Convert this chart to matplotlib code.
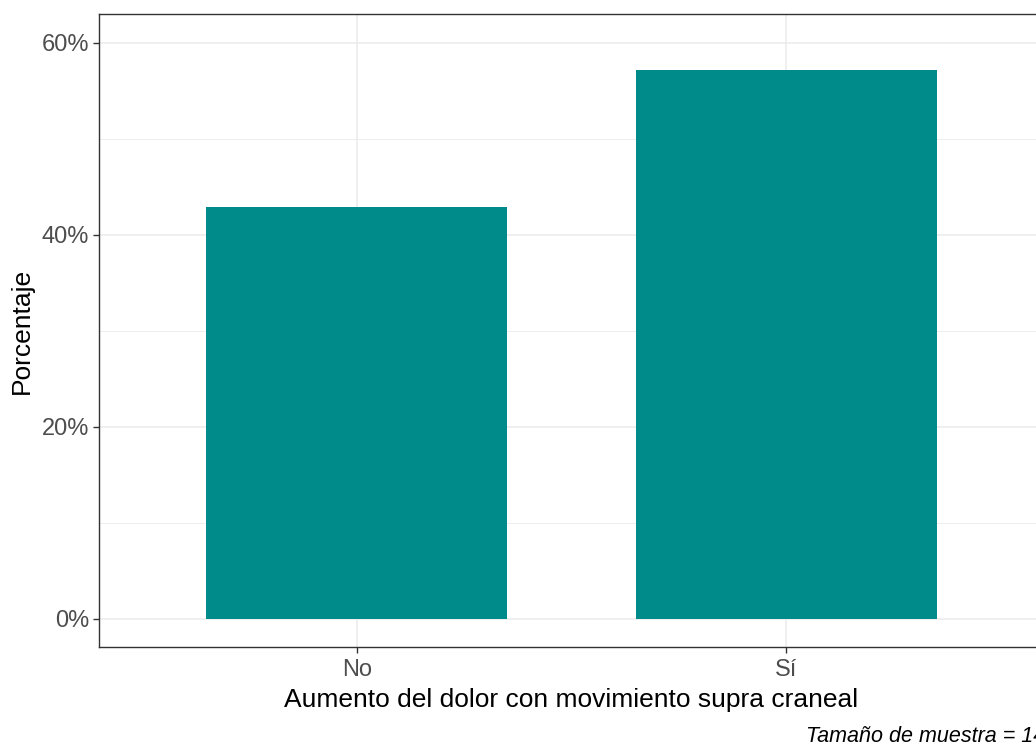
import matplotlib
matplotlib.use("Agg")
import matplotlib.pyplot as plt
from matplotlib.ticker import FixedLocator, FuncFormatter

categories = ["No", "Sí"]
values = [6 / 14 * 100, 8 / 14 * 100]
yticks = [0, 20, 40, 60]
yminor = [10, 30, 50]
xlabel = "Aumento del dolor con movimiento supra craneal"
ylabel = "Porcentaje"
caption = "Tamaño de muestra = 14"

plt.rcParams['font.family'] = ['Liberation Sans', 'DejaVu Sans']

W, H = 1036, 745
fig = plt.figure(figsize=(W / 100, H / 100), dpi=100)
left, right, top, bottom = 99, 1044, 14, 647
ax = fig.add_axes([left / W, 1 - bottom / H, (right - left) / W, (bottom - top) / H])

xpos = [1, 2]
ax.bar(xpos, values, width=0.7, color="#008B8B", zorder=3)
ax.set_xlim(0.4, 2.6)
ax.set_ylim(-2.92, 63.0)

ax.yaxis.set_major_locator(FixedLocator(yticks))
ax.yaxis.set_minor_locator(FixedLocator(yminor))
ax.yaxis.set_major_formatter(FuncFormatter(lambda v, p: f"{int(v)}%"))
ax.set_xticks(xpos)
ax.set_xticklabels(categories)

ax.grid(which="major", color="#EBEBEB", linewidth=1.1, zorder=0)
ax.grid(which="minor", axis="y", color="#EBEBEB", linewidth=0.6, zorder=0)
ax.set_axisbelow(True)
for s in ax.spines.values():
    s.set_color("#333333")
    s.set_linewidth(1.0)

ax.tick_params(which="major", length=4, width=1, color="#333333",
               labelcolor="#4D4D4D", labelsize=17, pad=3)
ax.tick_params(axis="x", which="major", pad=5)
ax.tick_params(which="minor", length=0)

ax.set_xlabel(xlabel, fontsize=19, color="black", labelpad=5)
ax.set_ylabel(ylabel, fontsize=19, color="black", labelpad=6)

fig.text(806 / W, 1 - 742 / H, caption, fontsize=15.5, style="italic",
         ha="left", va="baseline", color="black")

fig.savefig("out.png", dpi=100)
